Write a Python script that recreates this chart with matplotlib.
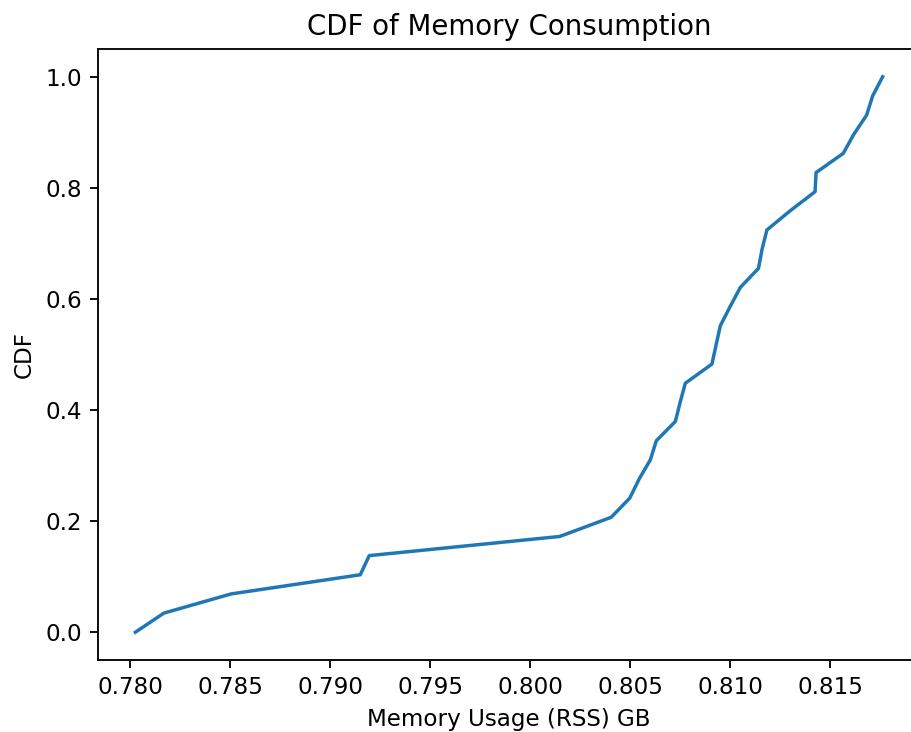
import matplotlib
matplotlib.use("Agg")
import matplotlib.pyplot as plt
import numpy as np

# memory usage samples (GB), sorted
memory_gb = [0.78025, 0.78168, 0.78504, 0.79150, 0.79195, 0.80148, 0.80405,
             0.80498, 0.80545, 0.80601, 0.80631, 0.80726, 0.80750, 0.80776,
             0.80909, 0.80930, 0.80951, 0.81000, 0.81051, 0.81142, 0.81160,
             0.81184, 0.81300, 0.81425, 0.81430, 0.81566, 0.81619, 0.81683,
             0.81713, 0.81763]

cdf = np.arange(len(memory_gb)) / (len(memory_gb) - 1)

dpi = 166
fig = plt.figure(figsize=(911 / dpi, 732 / dpi), dpi=dpi)
ax = fig.add_axes([98 / 911, 72 / 732, (920 - 98) / 911, (660 - 49) / 732])
ax.plot(memory_gb, cdf, color="#1f77b4")
ax.set_title("CDF of Memory Consumption")
ax.set_xlabel("Memory Usage (RSS) GB")
ax.set_ylabel("CDF")

fig.savefig("out.png", dpi=dpi)
